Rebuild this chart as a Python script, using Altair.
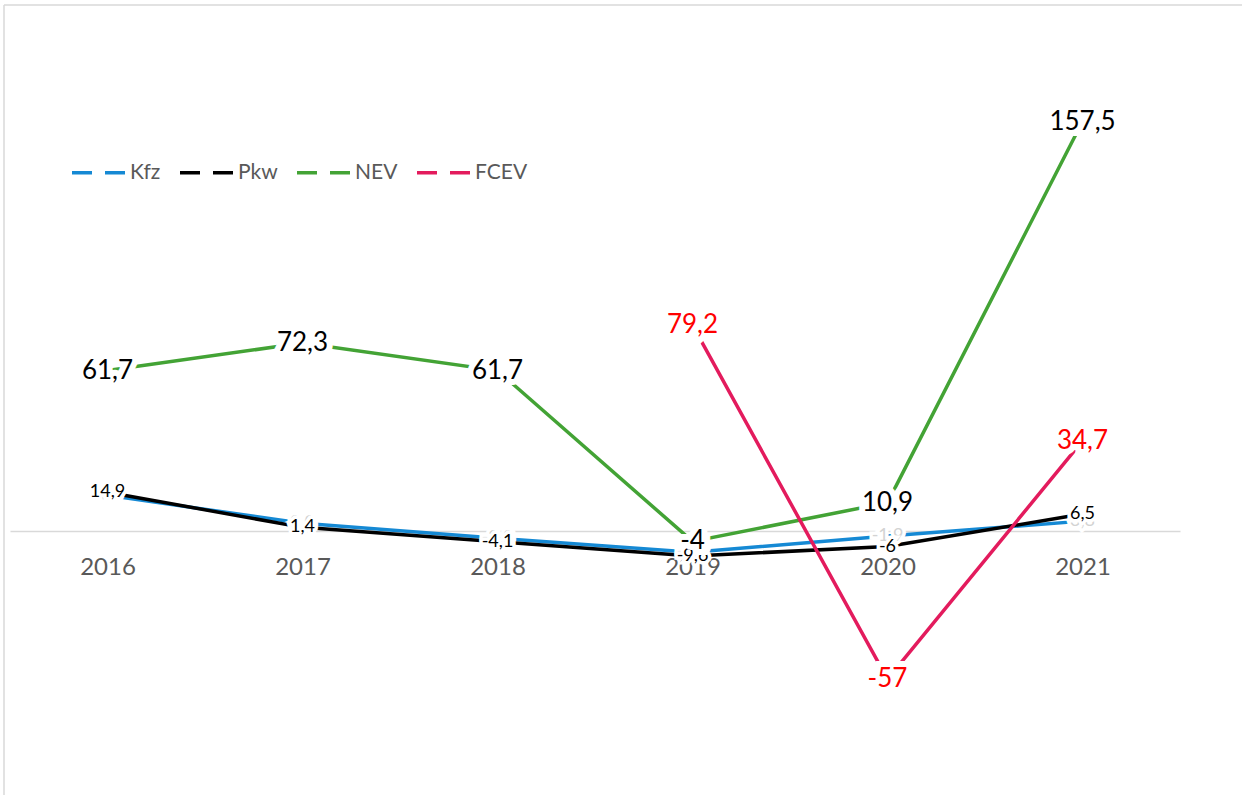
import altair as alt
import pandas as pd

years = ["2016", "2017", "2018", "2019", "2020", "2021"]
series_names = ["Kfz", "Pkw", "NEV", "FCEV"]
kfz = [13.7, 3.0, -2.8, -8.2, -1.9, 3.8]
pkw = [14.9, 1.4, -4.1, -9.6, -6.0, 6.5]
nev = [61.7, 72.3, 61.7, -4.0, 10.9, 157.5]
fcev = [None, None, None, 79.2, -57.0, 34.7]

line_colors = ["#1589d4", "#000000", "#43a335", "#e31b5d"]
label_colors = ["#d3d3d3", "#000000", "#000000", "#ff0000"]
label_sizes = [18, 18, 26, 26]
halo_widths = [7, 7, 12, 12]

rows = []
for name, vals in zip(series_names, [kfz, pkw, nev, fcev]):
    for y, v in zip(years, vals):
        if v is None:
            continue
        if name == "Kfz":
            lab = f"{v:.1f}".replace(".", ",")
        else:
            lab = f"{v:g}".replace(".", ",")
        rows.append({"year": y, "series": name, "value": v, "label": lab})
df = pd.DataFrame(rows)

FONT = "Lato"
W, H = 1170, 780

x_enc = alt.X("year:O", sort=years,
              scale=alt.Scale(type="point", padding=0.5),
              axis=alt.Axis(title=None, ticks=False, grid=False, domain=True,
                            domainColor="#d9d9d9", domainWidth=1.5,
                            labelAngle=0, labelFont=FONT, labelFontSize=24,
                            labelColor="#595959", labelPadding=24,
                            offset=-260))
y_scale = alt.Scale(domain=[-100, 200], nice=False, zero=False)

base = alt.Chart(df)

lines = base.mark_line(strokeWidth=3.5).encode(
    x=x_enc,
    y=alt.Y("value:Q", scale=y_scale, axis=None),
    color=alt.Color("series:N", sort=series_names,
                    scale=alt.Scale(domain=series_names, range=line_colors),
                    legend=alt.Legend(title=None, orient="none", direction="horizontal",
                                      legendX=60, legendY=133,
                                      symbolType="stroke", symbolSize=2809,
                                      symbolStrokeWidth=3.5, symbolDash=[20, 13],
                                      labelFont=FONT, labelFontSize=21,
                                      labelColor="#595959", labelOffset=3,
                                      columnPadding=12)),
)

layers = [lines]
for name, col, sz, hw in zip(series_names, label_colors, label_sizes, halo_widths):
    sub = base.transform_filter(alt.datum.series == name)
    enc = dict(
        x=alt.X("year:O", sort=years, scale=alt.Scale(type="point", padding=0.5)),
        y=alt.Y("value:Q", scale=y_scale),
        text="label:N")
    halo = sub.mark_text(font=FONT, fontSize=sz, fill="white", stroke="white",
                         strokeWidth=hw, strokeJoin="miter",
                         baseline="middle", align="center").encode(**enc)
    txt = sub.mark_text(font=FONT, fontSize=sz, color=col,
                        baseline="middle", align="center").encode(**enc)
    layers += [halo, txt]

frame_df = pd.DataFrame({"k": [0]})
frame_top = alt.Chart(frame_df).mark_rule(color="#d9d9d9", strokeWidth=1.5).encode(
    x=alt.value(-6), x2=alt.value(1240), y=alt.value(-6))
frame_left = alt.Chart(frame_df).mark_rule(color="#d9d9d9", strokeWidth=1.5).encode(
    x=alt.value(-6), y=alt.value(-6), y2=alt.value(800))

chart = alt.layer(frame_top, frame_left, *layers).properties(
    width=W, height=H,
    background="white",
    autosize=alt.AutoSizeParams(type="none"),
    padding={"left": 10, "top": 11, "right": 62, "bottom": 4},
).configure_view(stroke=None)

chart.save("out.html", embed_options={"renderer": "svg", "actions": False})
